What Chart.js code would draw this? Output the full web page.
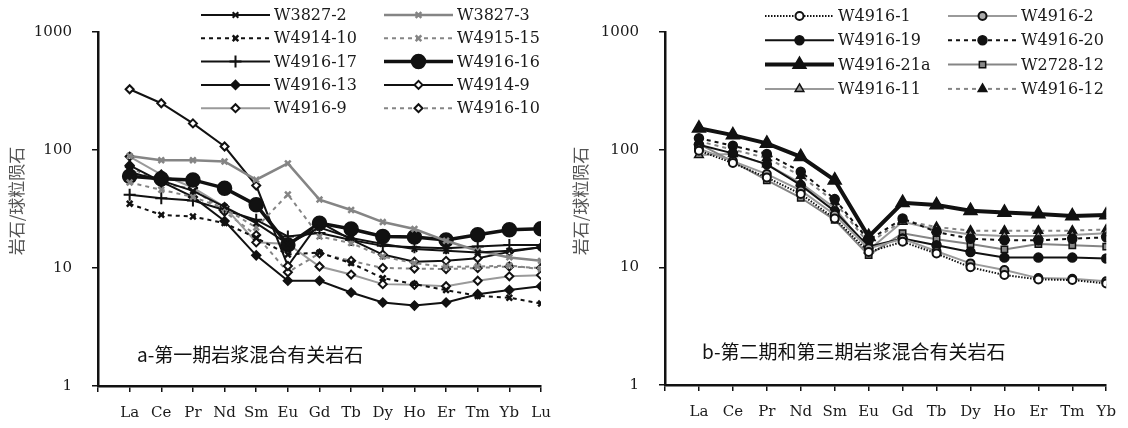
<!DOCTYPE html>
<html><head><meta charset="utf-8">
<script src="https://cdn.jsdelivr.net/npm/chart.js@4.4.1/dist/chart.umd.min.js"></script>
<style>
html,body{margin:0;padding:0;background:#fff;}
#wrap{position:relative;width:1128px;height:428px;}
.box{position:absolute;top:0;width:564px;height:428px;}
</style></head>
<body><div id="wrap">
<div class="box" style="left:0"><canvas id="ca" width="564" height="428"></canvas></div>
<div class="box" style="left:564px"><canvas id="cb" width="564" height="428"></canvas></div>
</div>
<script>
// ---------- categories ----------
const elementsA = ['La','Ce','Pr','Nd','Sm','Eu','Gd','Tb','Dy','Ho','Er','Tm','Yb','Lu'];
const elementsB = ['La','Ce','Pr','Nd','Sm','Eu','Gd','Tb','Dy','Ho','Er','Tm','Yb'];
const yTicks = [1, 10, 100, 1000];

// ---------- panel a values (chondrite-normalised) ----------
const W3827_2  = [65, 55, 45, 33, 24, 16, 22, 18, 16, 14.5, 14, 13.5, 14, 15];
const W3827_3  = [89, 82, 82, 80, 56, 77, 38, 31, 24.5, 21.4, 17, 14, 12.3, 11.5];
const W4914_10 = [35, 28.2, 27.3, 24, 18, 13, 13.5, 11, 8.2, 7.3, 6.5, 5.8, 5.6, 5.0];
const W4915_15 = [53, 46, 40, 32, 22, 42, 18.5, 16.3, 12.5, 11, 10.2, 10.3, 10.5, 9.8];
const W4916_17 = [41.7, 39, 37.3, 31, 25.6, 18.5, 19.8, 17.3, 15.4, 15, 14.7, 15.2, 15.7, 15.7];
const W4916_16 = [60, 57, 55.8, 47.5, 34.3, 15.7, 24, 21.4, 18.5, 18.3, 17.3, 19.1, 21.1, 21.5];
const W4916_13 = [74, 54, 40, 25, 12.8, 7.8, 7.8, 6.2, 5.1, 4.8, 5.1, 6.0, 6.5, 7.0];
const W4914_9  = [327, 249, 168, 107, 50, 10.4, 24.5, 17.4, 13, 11.3, 11.5, 12.1, 13.7, 15];
const W4916_9  = [88, 62, 48, 33, 16.5, 16, 10.3, 8.8, 7.3, 7.2, 7.0, 7.8, 8.5, 8.7];
const W4916_10 = [72, 52, 47, 30, 19, 9.2, 13.3, 11.5, 10, 9.9, 9.8, 10, 10.3, 10];

// ---------- panel b values ----------
const W4916_1   = [98, 77, 58, 42, 26, 13.5, 16.5, 13.1, 10, 8.6, 7.9, 7.8, 7.3];
const W4916_2   = [102, 80, 62, 45, 28, 14.5, 17.5, 13.7, 10.8, 9.5, 8.1, 8.0, 7.6];
const W4916_19  = [110, 93, 75, 50, 30, 15, 17.6, 15.4, 13.5, 12.1, 12.1, 12.1, 11.9];
const W4916_20  = [125, 108, 92, 65, 38, 17, 26, 20, 17.5, 17, 17, 17.5, 18];
const W4916_21a = [152, 133, 113, 87, 55, 18.2, 35.4, 33.8, 30.3, 29.3, 28.4, 27.3, 27.8];
const W2728_12  = [112, 79, 55, 39, 25.3, 12.7, 19.5, 17.3, 15.8, 14.2, 15.8, 15.4, 15];
const W4916_11  = [90, 92, 75, 52, 32, 14, 24.4, 21, 19, 18.5, 18.5, 18.8, 19.5];
const W4916_12  = [118, 100, 85, 60, 36, 16, 25, 22, 20.5, 20.5, 20.5, 20.5, 21];

const GREY = '#858585';
const BLK = '#111';
const LATIN = '"DejaVu Serif"';

function pts(arr){ return arr.map((v,i)=>({x:i+1, y:v})); }

function ds(label, arr, o){
  return Object.assign({
    label, data: pts(arr), borderColor: BLK, backgroundColor: BLK,
    borderWidth: 2, pointRadius: 4, pointBorderWidth: 1.5, pointStyle: 'circle',
    pointBorderColor: BLK, pointBackgroundColor: BLK, borderDash: [], tension: 0,
    pointHoverRadius: 4
  }, o);
}

const setA = [
  ds('W3827-2', W3827_2, {pointStyle:'crossRot', pointRadius:4, pointBorderWidth:2}),
  ds('W3827-3', W3827_3, {borderColor:GREY, pointBorderColor:GREY, pointStyle:'crossRot', pointRadius:4, pointBorderWidth:2.5, borderWidth:2.5}),
  ds('W4914-10', W4914_10, {borderDash:[4,4], pointStyle:'crossRot', pointRadius:4, pointBorderWidth:2.5}),
  ds('W4915-15', W4915_15, {borderColor:GREY, pointBorderColor:GREY, borderDash:[4,4], pointStyle:'crossRot', pointRadius:4, pointBorderWidth:2.5}),
  ds('W4916-17', W4916_17, {pointStyle:'cross', pointRadius:6, pointBorderWidth:2}),
  ds('W4916-16', W4916_16, {borderWidth:3.5, pointStyle:'circle', pointRadius:7}),
  ds('W4916-13', W4916_13, {pointStyle:'rectRot', pointRadius:4.5}),
  ds('W4914-9', W4914_9, {pointStyle:'rectRot', pointRadius:4, pointBackgroundColor:'#fff', pointBorderWidth:2}),
  ds('W4916-9', W4916_9, {borderColor:'#9a9a9a', pointStyle:'rectRot', pointRadius:4, pointBackgroundColor:'#fff', pointBorderWidth:2}),
  ds('W4916-10', W4916_10, {borderColor:GREY, borderDash:[4,4], pointStyle:'rectRot', pointRadius:4, pointBackgroundColor:'#fff', pointBorderWidth:2})
];

const setB = [
  ds('W4916-1', W4916_1, {borderWidth:2, borderDash:[1.5,1.5], pointRadius:4, pointBackgroundColor:'#fff', pointBorderWidth:2}),
  ds('W4916-2', W4916_2, {borderColor:'#9a9a9a', pointRadius:4, pointBackgroundColor:'#aaa', pointBorderWidth:2}),
  ds('W4916-19', W4916_19, {pointRadius:4.5}),
  ds('W4916-20', W4916_20, {borderDash:[4,4], pointRadius:4.5}),
  ds('W4916-21a', W4916_21a, {borderWidth:4, pointStyle:'triangle', pointRadius:7.5}),
  ds('W2728-12', W2728_12, {borderColor:GREY, pointStyle:'rect', pointRadius:4.5, pointBackgroundColor:'#888', pointBorderWidth:1.5}),
  ds('W4916-11', W4916_11, {borderColor:'#9a9a9a', pointStyle:'triangle', pointRadius:5, pointBackgroundColor:'#999', pointBorderWidth:1.5}),
  ds('W4916-12', W4916_12, {borderColor:GREY, borderDash:[4,4], pointStyle:'triangle', pointRadius:5, pointBorderWidth:1.5})
];

const legendPlugin = {
  id: 'customLegend',
  afterDraw(chart, args, opts){
    const ctx = chart.ctx;
    ctx.save();
    chart.data.datasets.forEach((d, i) => {
      const col = i % 2, row = Math.floor(i / 2);
      const x1 = opts.cols[col], x2 = x1 + opts.lineLen;
      const y = opts.top + row * opts.rowH;
      ctx.save();
      ctx.strokeStyle = d.borderColor; ctx.lineWidth = d.borderWidth;
      ctx.setLineDash(d.borderDash || []);
      ctx.beginPath(); ctx.moveTo(x1, y); ctx.lineTo(x2, y); ctx.stroke();
      ctx.setLineDash([]);
      ctx.fillStyle = d.pointBackgroundColor; ctx.strokeStyle = d.pointBorderColor;
      ctx.lineWidth = d.pointBorderWidth;
      Chart.helpers.drawPoint(ctx, {pointStyle: d.pointStyle, radius: d.pointRadius, rotation: 0, borderWidth: d.pointBorderWidth}, (x1 + x2) / 2, y);
      ctx.restore();
      ctx.fillStyle = '#1a1a1a';
      ctx.font = opts.font;
      ctx.textAlign = 'left'; ctx.textBaseline = 'middle';
      ctx.fillText(d.label, x2 + 4, y + 1);
    });
    // axis title
    ctx.save();
    ctx.translate(opts.titleX, opts.titleY);
    ctx.rotate(-Math.PI / 2);
    ctx.fillStyle = '#555';
    ctx.font = '17px "Noto Sans CJK SC"';
    ctx.textAlign = 'center'; ctx.textBaseline = 'middle';
    ctx.fillText('岩石/球粒陨石', 0, 0);
    ctx.restore();
    // panel note
    ctx.fillStyle = '#111';
    ctx.font = '19px "Noto Sans CJK SC"';
    ctx.textAlign = 'left'; ctx.textBaseline = 'middle';
    ctx.fillText(opts.note, opts.noteX, opts.noteY);
    ctx.restore();
  }
};

function makeChart(id, datasets, labels, geom, legendOpts){
  const n = labels.length;
  return new Chart(document.getElementById(id), {
    type: 'line',
    data: { datasets },
    plugins: [legendPlugin],
    options: {
      responsive: false, animation: false, events: [],
      layout: { padding: { left: 0, right: geom.padRight, top: 32, bottom: 0 } },
      plugins: { legend: { display: false }, tooltip: { enabled: false }, customLegend: legendOpts },
      scales: {
        x: {
          type: 'linear', min: 0, max: n,
          afterFit(s){ s.height = geom.xHeight; },
          afterBuildTicks(s){ s.ticks = Array.from({length: n + 1}, (_, i) => ({value: i})); },
          ticks: { autoSkip: false, maxRotation: 0, padding: 12, color: '#1a1a1a',
                   font: { family: LATIN, size: 15 },
                   callback: (v) => (v >= 1 && v <= n) ? labels[v - 1] : '' },
          grid: { drawOnChartArea: false, drawTicks: true, tickLength: 6, color: '#111', lineWidth: 1.5 },
          border: { display: true, color: '#111', width: 2.5 }
        },
        y: {
          type: 'logarithmic', min: 1, max: 1000,
          afterFit(s){ s.width = geom.yWidth; },
          afterBuildTicks(s){ s.ticks = yTicks.map(v => ({value: v})); },
          ticks: { padding: 20, color: '#1a1a1a', font: { family: LATIN, size: 15 },
                   callback: (v) => String(v) },
          grid: { drawOnChartArea: false, drawTicks: true, tickLength: 6, color: '#111', lineWidth: 1.5 },
          border: { display: true, color: '#111', width: 2.5 }
        }
      }
    }
  });
}

makeChart('ca', setA, elementsA, {padRight: 23, xHeight: 42, yWidth: 98},
  {cols: [201, 384], lineLen: 69, top: 15, rowH: 23.3, font: '16px ' + LATIN,
   titleX: 17, titleY: 201, note: 'a-第一期岩浆混合有关岩石', noteX: 137, noteY: 355});
makeChart('cb', setB, elementsB, {padRight: 20, xHeight: 43, yWidth: 101},
  {cols: [201, 384], lineLen: 69, top: 16, rowH: 24.3, font: '16px ' + LATIN,
   titleX: 17, titleY: 201, note: 'b-第二期和第三期岩浆混合有关岩石', noteX: 138, noteY: 352});
</script>
</body></html>
